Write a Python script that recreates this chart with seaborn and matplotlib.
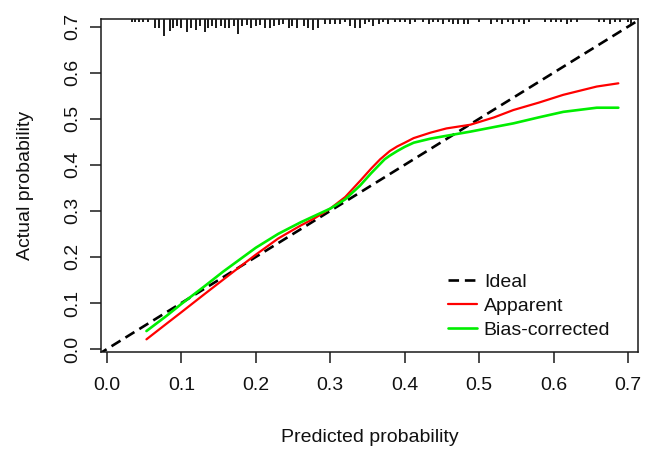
import numpy as np
import pandas as pd
import matplotlib
matplotlib.use("Agg")
import matplotlib.pyplot as plt
import seaborn as sns

# ---------------- data ----------------
ideal_x = [-0.05, 0.75]
ideal_y = [-0.05, 0.75]

apparent_x = [0.053, 0.08, 0.10, 0.13, 0.17, 0.20, 0.23, 0.26, 0.28, 0.30, 0.32, 0.34, 0.355,
              0.367, 0.38, 0.39, 0.40, 0.412, 0.435, 0.456, 0.488, 0.52, 0.546, 0.58, 0.613,
              0.658, 0.687]
apparent_y = [0.021, 0.055, 0.080, 0.118, 0.168, 0.205, 0.240, 0.268, 0.285, 0.305, 0.330, 0.365,
              0.392, 0.412, 0.430, 0.440, 0.448, 0.458, 0.470, 0.479, 0.487, 0.503, 0.519, 0.535,
              0.552, 0.570, 0.577]

bias_x = [0.053, 0.08, 0.10, 0.13, 0.156, 0.20, 0.23, 0.26, 0.28, 0.30, 0.32, 0.34, 0.355,
          0.373, 0.38, 0.39, 0.40, 0.412, 0.435, 0.456, 0.488, 0.52, 0.546, 0.58, 0.613,
          0.658, 0.687]
bias_y = [0.039, 0.072, 0.098, 0.135, 0.168, 0.220, 0.250, 0.275, 0.290, 0.305, 0.325, 0.355,
          0.382, 0.412, 0.420, 0.430, 0.439, 0.448, 0.457, 0.463, 0.472, 0.482, 0.490, 0.503,
          0.515, 0.524, 0.524]

rug_x = [0.034, 0.038, 0.043, 0.048, 0.055, 0.064, 0.070, 0.077, 0.084, 0.089, 0.094, 0.100,
         0.107, 0.113, 0.119, 0.125, 0.131, 0.136, 0.141, 0.147, 0.153, 0.159, 0.164, 0.171,
         0.176, 0.182, 0.188, 0.194, 0.200, 0.206, 0.212, 0.219, 0.225, 0.231, 0.237, 0.244,
         0.249, 0.255, 0.264, 0.270, 0.277, 0.284, 0.293, 0.300, 0.306, 0.313, 0.320, 0.326,
         0.333, 0.340, 0.347, 0.352, 0.358, 0.365, 0.371, 0.378, 0.387, 0.394, 0.400, 0.407,
         0.414, 0.425, 0.432, 0.438, 0.445, 0.452, 0.459, 0.465, 0.472, 0.479, 0.485, 0.500,
         0.516, 0.524, 0.531, 0.539, 0.545, 0.554, 0.560, 0.567, 0.588, 0.596, 0.603, 0.610,
         0.618, 0.624, 0.631, 0.661, 0.668, 0.676, 0.682, 0.689, 0.700, 0.704]
rug_freq = [1, 1, 1, 1, 1, 8, 8, 16, 11, 7, 5, 7,
            12, 8, 10, 5, 12, 7, 5, 7, 5, 7, 7, 5,
            14, 5, 4, 7, 5, 4, 7, 7, 5, 4, 3, 7,
            5, 7, 5, 7, 10, 8, 3, 3, 3, 3, 1, 5,
            7, 7, 3, 1, 5, 3, 1, 3, 1, 1, 1, 3,
            1, 1, 3, 1, 1, 3, 1, 3, 3, 3, 3, 1,
            3, 1, 3, 1, 3, 1, 3, 1, 1, 1, 1, 1,
            3, 1, 1, 1, 1, 3, 1, 1, 1, 3]

xticks = [0.0, 0.1, 0.2, 0.3, 0.4, 0.5, 0.6, 0.7]
yticks = [0.0, 0.1, 0.2, 0.3, 0.4, 0.5, 0.6, 0.7]
tick_labels = ["0.0", "0.1", "0.2", "0.3", "0.4", "0.5", "0.6", "0.7"]

series_names = ["Ideal", "Apparent", "Bias-corrected"]
x_label = "Predicted probability"
y_label = "Actual probability"

# ---------------- style ----------------
sns.set_theme(style="white")
plt.rcParams['font.family'] = ['Liberation Sans', 'DejaVu Sans']
FS = 14
INK = "#1a1a1a"

fig = plt.figure(figsize=(6.49, 4.59), dpi=100)
W, H = 649, 459
L, R, T, B = 101, 638, 19.3, 352
ax = fig.add_axes([L / W, 1 - B / H, (R - L) / W, (B - T) / H])
ax.set_facecolor("white")

sns.lineplot(x=ideal_x, y=ideal_y, ax=ax, color="black", lw=1.9,
             linestyle=(0, (4.0, 2.2)), label=series_names[0], sort=False, estimator=None)
sns.lineplot(x=apparent_x, y=apparent_y, ax=ax, color="#ff0000", lw=1.6,
             label=series_names[1], sort=False, estimator=None)
sns.lineplot(x=bias_x, y=bias_y, ax=ax, color="#00ee00", lw=1.9,
             label=series_names[2], sort=False, estimator=None)

# rug of predicted probabilities (spikes from the top border)
k = 0.0029
ax.vlines(rug_x, [1 - (f + 1.5) * k for f in rug_freq], 1, transform=ax.get_xaxis_transform(),
          colors=INK, lw=1.4, zorder=3)

ax.set_xlim(-0.00806, 0.7134)
ax.set_ylim(-0.0065, 0.716)
ax.set_xticks(xticks)
ax.set_xticklabels(tick_labels)
ax.set_yticks(yticks)
ax.set_yticklabels(tick_labels)

for s in ax.spines.values():
    s.set_visible(True)
    s.set_color(INK)
    s.set_linewidth(1.1)

ax.tick_params(axis="both", which="major", direction="out", length=8, width=1.1,
               color=INK, labelsize=FS, labelcolor="#111111", pad=10,
               bottom=True, left=True, top=False, right=False)
ax.tick_params(axis="y", labelrotation=90, pad=6.5)
for lab in ax.get_yticklabels():
    lab.set_va("center")

ax.set_xlabel(x_label, fontsize=FS, color="#111111")
ax.set_ylabel(y_label, fontsize=FS, color="#111111")
ax.xaxis.set_label_coords(0.5, -0.231)
ax.xaxis.label.set_va("top")
ax.yaxis.set_label_coords(-0.125, 0.5)
ax.yaxis.label.set_va("bottom")

ax.grid(False)
leg = ax.legend(loc="upper left", bbox_to_anchor=(0.646, 0.237), frameon=False,
                fontsize=FS, borderpad=0, borderaxespad=0, handlelength=1.5,
                handletextpad=0.35, labelspacing=0.33)
for t in leg.get_texts():
    t.set_color("#111111")

fig.savefig("out.png", dpi=100, facecolor="white")
